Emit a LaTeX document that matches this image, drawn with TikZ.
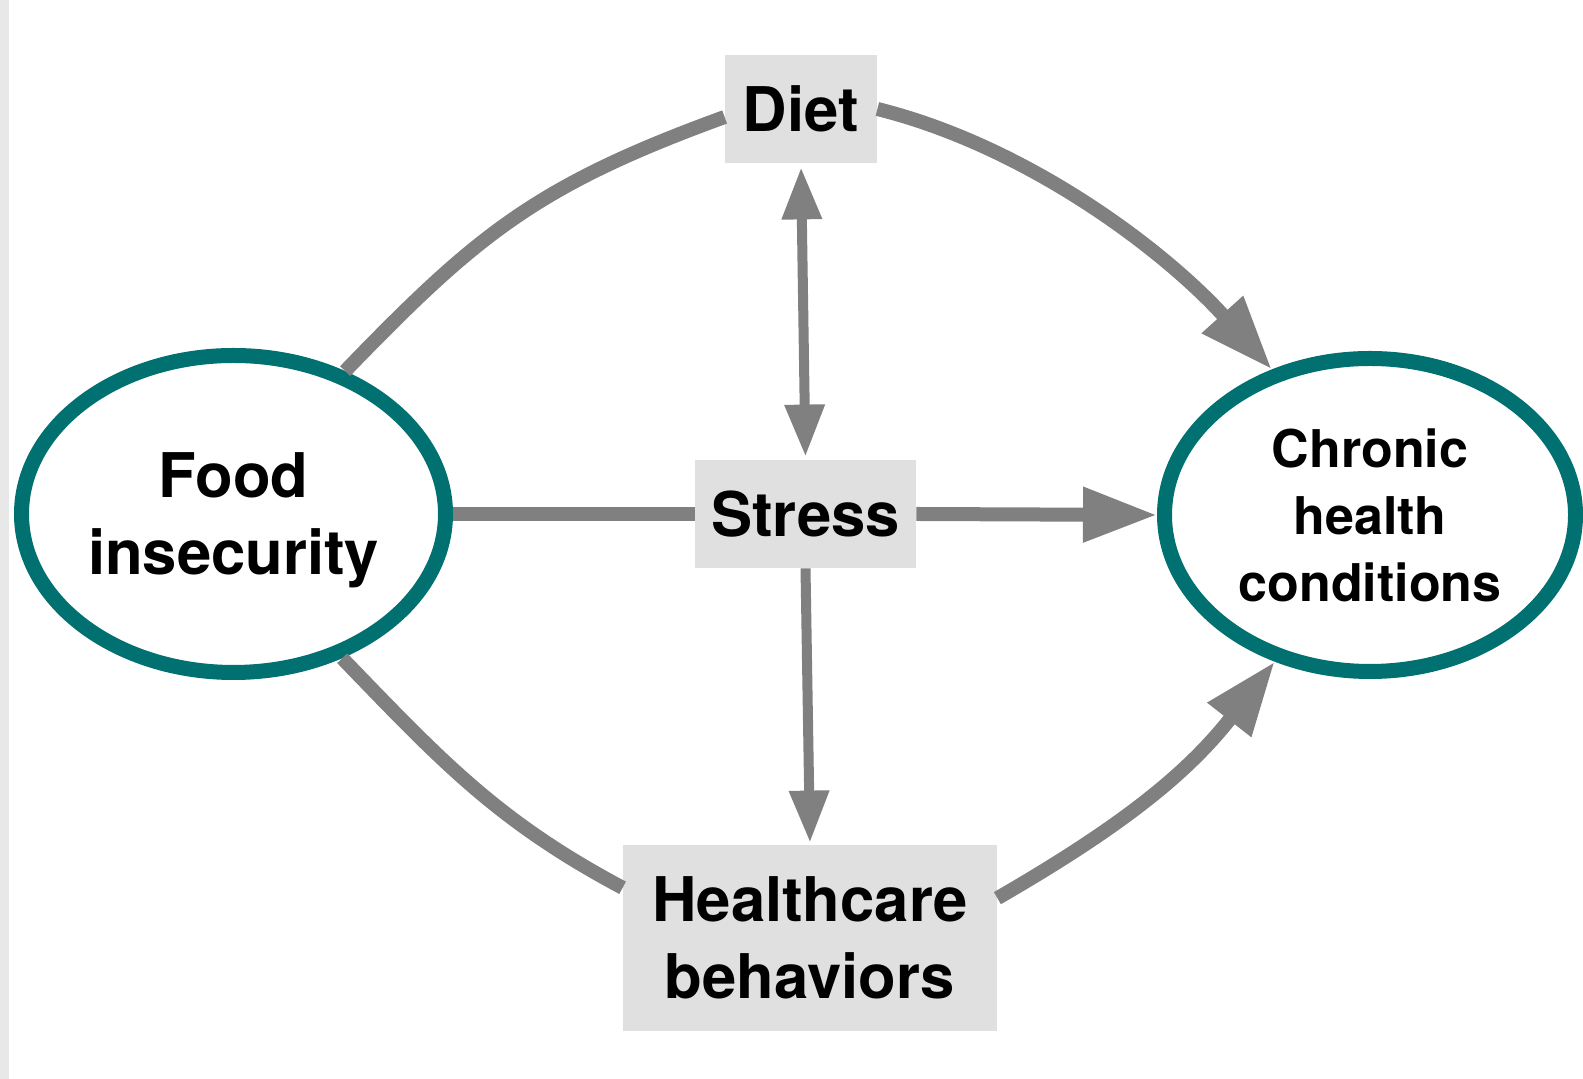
\documentclass[tikz,border=0pt]{standalone}
\usepackage{fontspec}
\setmainfont{TeX Gyre Heros}
\usetikzlibrary{arrows.meta,shapes.geometric}
\definecolor{ovalc}{RGB}{0,112,112}
\definecolor{linec}{RGB}{128,128,128}
\definecolor{boxc}{RGB}{224,224,224}
\definecolor{stripc}{RGB}{232,232,232}
\begin{document}
\begin{tikzpicture}[x=0.5pt,y=0.5pt,
  oval/.style={ellipse, draw=ovalc, line width=7.5pt, fill=white, inner sep=0pt, align=center},
  bigfont/.style={font=\bfseries\fontsize{30.8}{38.5}\selectfont},
  smallfont/.style={font=\bfseries\fontsize{26}{33.5}\selectfont},
  box/.style={rectangle, fill=boxc, inner sep=0pt, align=center, bigfont},
  conn/.style={draw=linec, line width=7pt},
  vconn/.style={draw=linec, line width=5pt},
  bigtip/.style={-{Triangle[length=37pt,width=26pt]}},
  smalltip/.style={-{Triangle[length=26pt,width=19pt]}},
  twotip/.style={{Triangle[length=26pt,width=19pt]}-{Triangle[length=26pt,width=19pt]}}
]
\useasboundingbox[fill=white] (0,0) rectangle (1583,1079);
\fill[stripc] (0,0) rectangle (9,1079);

\node[oval, bigfont, minimum width=212pt, minimum height=158.5pt] (food) at (233.5,565) {Food\\\smash{insecurity}};
\node[oval, smallfont, minimum width=205.5pt, minimum height=156.5pt] (chronic) at (1370,564) {Chronic\\health\\conditions};
\node[box, minimum width=76pt, minimum height=54pt] (diet) at (801,970) {Diet};
\node[box, minimum width=110.5pt, minimum height=54pt] (stress) at (805.5,565) {Stress};
\node[box, minimum width=187pt, minimum height=93pt] (hc) at (810,141) {Healthcare\\behaviors};

\draw[conn] (food.52) .. controls +(46:190) and +(200:200) .. (diet.186);
\draw[conn, bigtip] (diet.east) to[out=-14,in=132,looseness=0.85] (chronic.124);
\draw[conn] (food.-53) to[out=-46,in=152] (hc.165);
\draw[conn, bigtip] (hc.12) to[out=30,in=232] (chronic.237);
\draw[conn] (food.east) -- (stress.west);
\draw[conn, bigtip] (stress.east) -- (chronic.west);
\draw[vconn, twotip, shorten <=2pt, shorten >=1.5pt] (diet.south) -- (stress.north);
\draw[vconn, smalltip, shorten >=1pt] (stress.south) -- (hc.north);
\end{tikzpicture}
\end{document}
